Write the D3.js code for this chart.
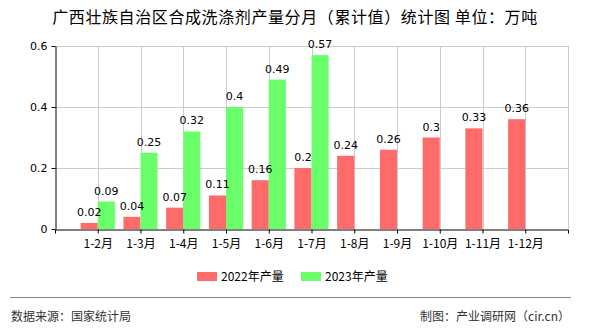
<!DOCTYPE html>
<html>
<head>
<meta charset="utf-8">
<script src="https://cdn.jsdelivr.net/npm/d3@7"></script>
<style>
  html, body { margin: 0; padding: 0; background: #fff; }
  svg { display: block; font-family: "Noto Sans CJK SC", "DejaVu Sans", sans-serif; }
</style>
</head>
<body>
<svg id="chart" width="590" height="330"></svg>
<script>
// Monthly cumulative output, 10k tonnes
const months = ["1-2月", "1-3月", "1-4月", "1-5月", "1-6月", "1-7月", "1-8月", "1-9月", "1-10月", "1-11月", "1-12月"];
const values2022 = [0.02, 0.04, 0.07, 0.11, 0.16, 0.2, 0.24, 0.26, 0.3, 0.33, 0.36];
const values2023 = [0.09, 0.25, 0.32, 0.4, 0.49, 0.57, null, null, null, null, null];
const yTicks = [0, 0.2, 0.4, 0.6];
const seriesNames = ["2022年产量", "2023年产量"];
const colors = ["#ff6a6a", "#6aff6a"];

const svg = d3.select("#chart");
const plotLeft = 55, plotRight = 568, plotTop = 46, plotBottom = 229;

const x = d3.scalePoint().domain(months).range([plotLeft, plotRight]).padding(1);
const y = d3.scaleLinear().domain([0, 0.6]).range([plotBottom, plotTop]);
const barW = x.step() * 0.4;

// Title
svg.append("text")
  .attr("x", 295).attr("y", 23)
  .attr("text-anchor", "middle")
  .attr("font-size", 16)
  .attr("letter-spacing", 0.6)
  .attr("fill", "#000")
  .text("广西壮族自治区合成洗涤剂产量分月（累计值）统计图 单位：万吨");

// Grid
const grid = svg.append("g").attr("stroke", "#cccccc").attr("stroke-width", 1);
yTicks.filter(d => d > 0).forEach(t => {
  grid.append("line").attr("x1", plotLeft).attr("x2", plotRight)
    .attr("y1", Math.round(y(t)) + 0.5).attr("y2", Math.round(y(t)) + 0.5);
});
months.forEach(m => {
  grid.append("line").attr("x1", Math.round(x(m)) + 0.5).attr("x2", Math.round(x(m)) + 0.5)
    .attr("y1", plotTop).attr("y2", plotBottom);
});
grid.append("line").attr("x1", plotRight + 0.5).attr("x2", plotRight + 0.5)
  .attr("y1", plotTop).attr("y2", plotBottom);

// Bars, then value labels on top of all bars
const series = [values2022, values2023];
const barX = (si, m) => si === 0 ? x(m) - barW : x(m);
const barLayer = svg.append("g");
const labelLayer = svg.append("g");
series.forEach((vals, si) => {
  months.forEach((m, i) => {
    const v = vals[i];
    if (v == null) return;
    const bx = barX(si, m);
    barLayer.append("rect")
      .attr("x", bx).attr("y", y(v))
      .attr("width", barW).attr("height", plotBottom - y(v))
      .attr("fill", colors[si]);
    labelLayer.append("text")
      .attr("x", bx + barW / 2).attr("y", y(v) - 7)
      .attr("text-anchor", "middle")
      .attr("font-size", 11)
      .attr("font-family", "DejaVu Sans, sans-serif")
      .attr("fill", "#000")
      .text(v);
  });
});

// Axes
const xAxis = svg.append("g").attr("transform", `translate(0,${plotBottom + 0.5})`)
  .call(d3.axisBottom(x).tickSize(4).tickSizeOuter(4));
xAxis.select(".domain").attr("stroke", "#000");
xAxis.selectAll(".tick line").attr("stroke", "#000");
xAxis.selectAll(".tick text").attr("font-size", 12).attr("fill", "#000")
  .attr("dy", "0.95em").attr("font-family", "Noto Sans CJK SC, sans-serif");

const yAxis = svg.append("g").attr("transform", `translate(${plotLeft + 0.5},0)`)
  .call(d3.axisLeft(y).tickValues(yTicks).tickSize(4).tickSizeOuter(0)
    .tickFormat(d => d === 0 ? "0" : d3.format(".1f")(d)));
yAxis.select(".domain").attr("stroke", "#000");
yAxis.selectAll(".tick line").attr("stroke", "#000");
yAxis.selectAll(".tick text").attr("font-size", 11).attr("fill", "#000")
  .attr("x", -8).attr("font-family", "DejaVu Sans, sans-serif");

// Legend
const legend = svg.append("g");
const legendX = [197, 301];
seriesNames.forEach((name, i) => {
  legend.append("rect").attr("x", legendX[i]).attr("y", 272)
    .attr("width", 20).attr("height", 9).attr("fill", colors[i]);
  legend.append("text").attr("x", legendX[i] + 24).attr("y", 281)
    .attr("font-size", 12).attr("fill", "#000").text(name);
});

// Footer
svg.append("line").attr("x1", 10).attr("x2", 571).attr("y1", 297.5).attr("y2", 297.5)
  .attr("stroke", "#888").attr("stroke-width", 1);
svg.append("text").attr("x", 11).attr("y", 321).attr("font-size", 12).attr("fill", "#333")
  .text("数据来源：国家统计局");
svg.append("text").attr("x", 570).attr("y", 321).attr("font-size", 12).attr("fill", "#333")
  .attr("text-anchor", "end").text("制图：产业调研网（cir.cn）");
</script>
</body>
</html>
